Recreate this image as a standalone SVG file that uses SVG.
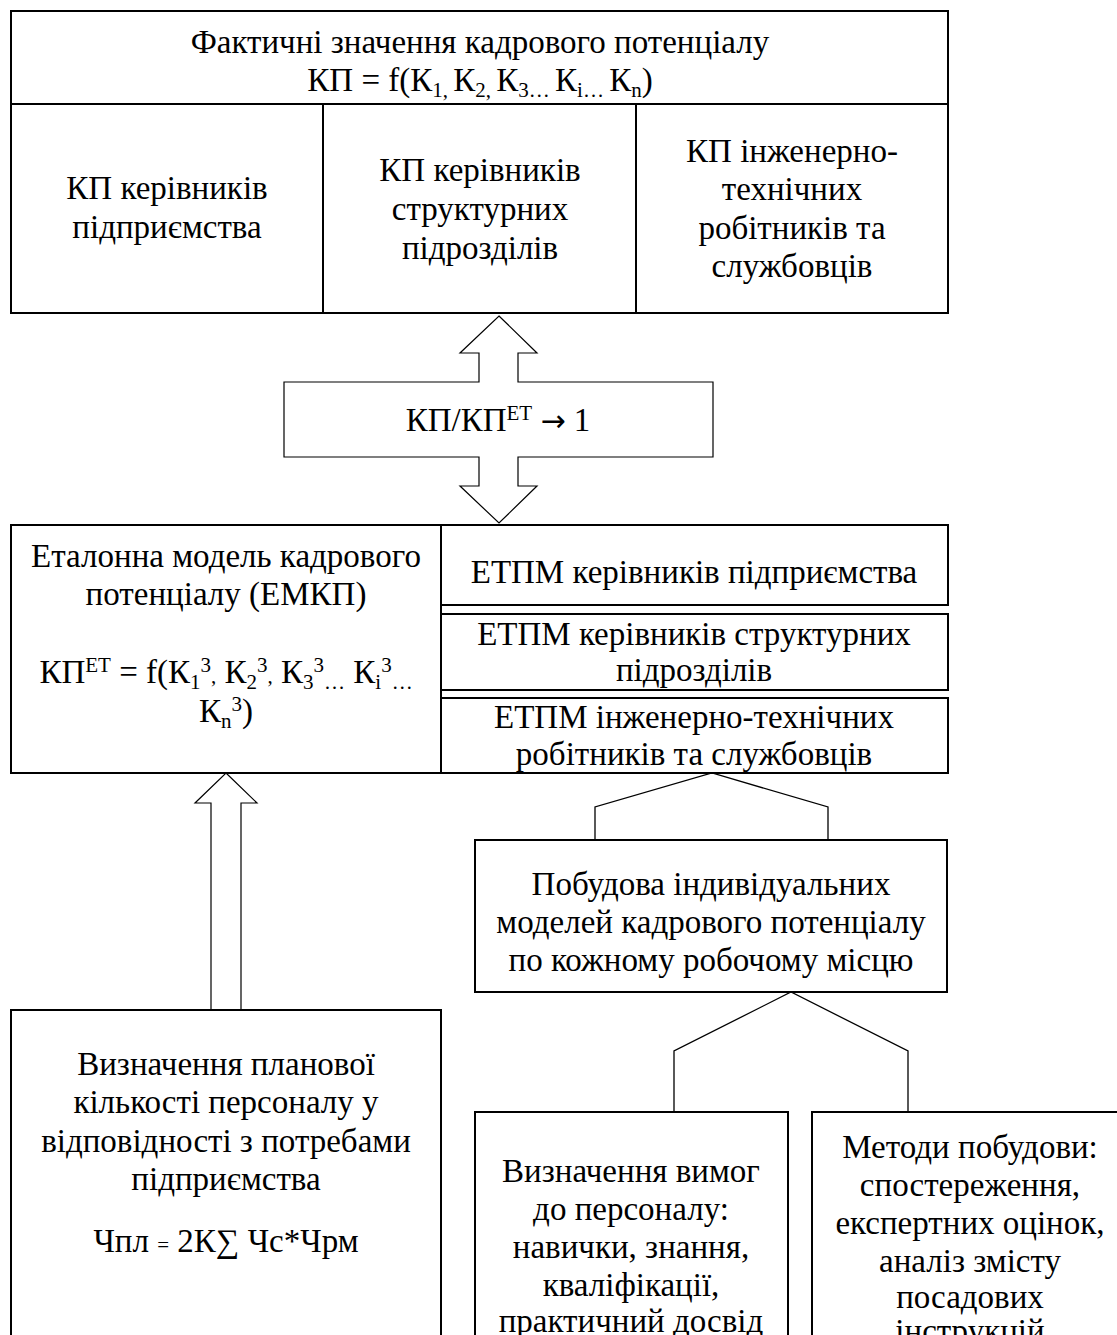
<svg xmlns="http://www.w3.org/2000/svg" width="1117" height="1335" viewBox="0 0 1117 1335">
<style>
text{font-family:"Liberation Serif","Times New Roman",serif;font-size:33px;fill:#000;text-anchor:middle}
.box{fill:#fff;stroke:#000;stroke-width:2}
.ln{fill:none;stroke:#000;stroke-width:2}
.arr{fill:#fff;stroke:#000;stroke-width:1.2}
.br{fill:none;stroke:#000;stroke-width:1.3}
.s{font-size:21px}
.ar{font-family:"DejaVu Sans",sans-serif;font-size:30px}
</style>
<rect width="1117" height="1335" fill="#fff"/>
<g id="connectors">
<path class="arr" d="M499,316 L537,353 L518,353 L518,382 L713,382 L713,457 L518,457 L518,486 L537,486 L499,523 L460,486 L479,486 L479,457 L284,457 L284,382 L479,382 L479,353 L460,353 Z"/>
<path class="arr" d="M226,773 L257,803 L241,803 L241,1010 L211,1010 L211,803 L195,803 Z"/>
<path class="br" d="M595,840 L595,807 L712,773 L828,807 L828,840"/>
<path class="br" d="M674,1112 L674,1051 L791,992 L908,1051 L908,1112"/>
</g>
<g id="ratio">
<text x="498" y="431">КП/КП<tspan class="s" dy="-11">ЕТ</tspan><tspan dy="11"> </tspan><tspan class="ar">→</tspan><tspan> 1</tspan></text>
</g>
<g id="actual">
<rect class="box" x="11" y="11" width="937" height="302"/>
<line class="ln" x1="11" y1="104" x2="948" y2="104"/>
<line class="ln" x1="323" y1="104" x2="323" y2="313"/>
<line class="ln" x1="636" y1="104" x2="636" y2="313"/>
<text x="480" y="53">Фактичні значення кадрового потенціалу</text>
<text x="480" y="91">КП = f(К<tspan class="s" dy="6">1, </tspan><tspan dy="-6">К</tspan><tspan class="s" dy="6">2, </tspan><tspan dy="-6">К</tspan><tspan class="s" dy="6">3… </tspan><tspan dy="-6">К</tspan><tspan class="s" dy="6">i… </tspan><tspan dy="-6">К</tspan><tspan class="s" dy="6">n</tspan><tspan dy="-6">)</tspan></text>
</g>
<g id="kp-mgr">
<text x="167" y="199">КП керівників</text>
<text x="167" y="238">підприємства</text>
</g>
<g id="kp-struct">
<text x="480" y="181">КП керівників</text>
<text x="480" y="220">структурних</text>
<text x="480" y="259">підрозділів</text>
</g>
<g id="kp-eng">
<text x="792" y="162">КП  інженерно-</text>
<text x="792" y="200">технічних</text>
<text x="792" y="239">робітників та</text>
<text x="792" y="277">службовців</text>
</g>
<g id="emkp">
<rect class="box" x="11" y="525" width="430" height="248"/>
<text x="226" y="567">Еталонна модель кадрового</text>
<text x="226" y="605">потенціалу (ЕМКП)</text>
<text x="226" y="683">КП<tspan class="s" dy="-11">ЕТ</tspan><tspan dy="11"> = f(К</tspan><tspan class="s" dy="6">1</tspan><tspan class="s" dy="-17">3</tspan><tspan class="s" dy="11">,</tspan><tspan> К</tspan><tspan class="s" dy="6">2</tspan><tspan class="s" dy="-17">3</tspan><tspan class="s" dy="11">,</tspan><tspan> К</tspan><tspan class="s" dy="6">3</tspan><tspan class="s" dy="-17">3</tspan><tspan class="s" dy="17">…</tspan><tspan dy="-6"> К</tspan><tspan class="s" dy="6">i</tspan><tspan class="s" dy="-17">3</tspan><tspan class="s" dy="17">…</tspan></text>
<text x="226" y="722">К<tspan class="s" dy="6">n</tspan><tspan class="s" dy="-17">3</tspan><tspan dy="11">)</tspan></text>
</g>
<g id="etpm-mgr">
<rect class="box" x="441" y="525" width="507" height="80"/>
<text x="694" y="583">ЕТПМ керівників підприємства</text>
</g>
<g id="etpm-struct">
<rect class="box" x="441" y="614" width="507" height="76"/>
<text x="694" y="645">ЕТПМ керівників структурних</text>
<text x="694" y="681">підрозділів</text>
</g>
<g id="etpm-eng">
<rect class="box" x="441" y="698" width="507" height="75"/>
<text x="694" y="728">ЕТПМ  інженерно-технічних</text>
<text x="694" y="765">робітників та службовців</text>
</g>
<g id="individual">
<rect class="box" x="475" y="840" width="472" height="152"/>
<text x="711" y="895">Побудова індивідуальних</text>
<text x="711" y="933">моделей кадрового потенціалу</text>
<text x="711" y="971">по кожному робочому місцю</text>
</g>
<g id="planned">
<rect class="box" x="11" y="1010" width="430" height="340"/>
<text x="226" y="1075">Визначення планової</text>
<text x="226" y="1113">кількості персоналу у</text>
<text x="226" y="1152">відповідності з потребами</text>
<text x="226" y="1190">підприємства</text>
<text x="226" y="1252">Чпл <tspan class="s">=</tspan> 2К∑ Чс*Чрм</text>
</g>
<g id="requirements">
<rect class="box" x="475" y="1112" width="313" height="240"/>
<text x="631" y="1182">Визначення вимог</text>
<text x="631" y="1220">до персоналу:</text>
<text x="631" y="1258">навички, знання,</text>
<text x="631" y="1296">кваліфікації,</text>
<text x="631" y="1332">практичний досвід</text>
</g>
<g id="methods">
<rect class="box" x="812" y="1112" width="320" height="240"/>
<text x="970" y="1158">Методи побудови:</text>
<text x="970" y="1196">спостереження,</text>
<text x="970" y="1234">експертних оцінок,</text>
<text x="970" y="1272">аналіз змісту</text>
<text x="970" y="1308">посадових</text>
<text x="970" y="1342">інструкцій</text>
</g>
</svg>
